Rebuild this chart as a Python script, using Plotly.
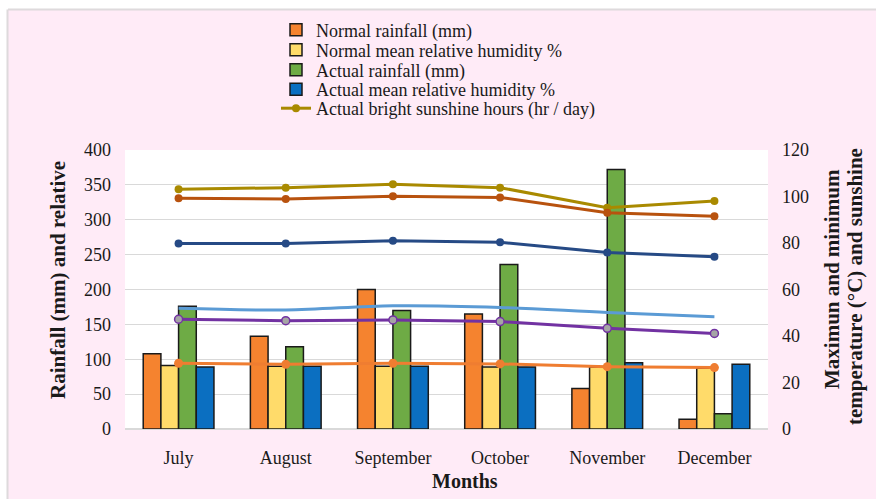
import plotly.graph_objects as go

months = ["July", "August", "September", "October", "November", "December"]

normal_rainfall = [108, 133, 200, 165, 58, 14]
normal_rh = [91, 90, 90, 89, 89, 87]
actual_rainfall = [176, 118, 170, 236, 372, 22]
actual_rh = [89, 90, 90, 89, 95, 93]

sunshine = [103.1, 103.8, 105.3, 103.8, 95.2, 98.1]
max_temp_normal = [99.2, 98.9, 100.1, 99.6, 93.0, 91.5]
line_blue_dark = [79.8, 79.8, 81.0, 80.3, 75.9, 74.1]
line_blue_light = [51.9, 51.2, 53.0, 52.3, 50.1, 48.3]
line_purple = [47.2, 46.6, 46.9, 46.2, 43.3, 41.1]
line_orange = [28.3, 27.8, 28.3, 28.0, 26.8, 26.4]

SERIF = "Liberation Serif"
TXT = "#1a1a1a"

L, R, T, B = 125, 108, 150, 70
W, H = 876, 499
pw, ph = W - L - R, H - T - B

def px_x(x):
    return (x - L) / pw

def px_y(y):
    return (H - B - y) / ph

fig = go.Figure()

bar_specs = [
    ("Normal rainfall (mm)", normal_rainfall, "#F5832F", "legend"),
    ("Normal mean relative humidity %", normal_rh, "#FFDB6A", "legend2"),
    ("Actual rainfall (mm)", actual_rainfall, "#6EAB45", "legend3"),
    ("Actual mean relative humidity %", actual_rh, "#0B6FC1", "legend4"),
]
for name, vals, col, lg in bar_specs:
    fig.add_trace(go.Bar(x=months, y=vals, name=name, legend=lg,
                         marker=dict(color=col, line=dict(color="#1a1a1a", width=1.5)),
                         yaxis="y"))

fig.add_trace(go.Scatter(x=months, y=sunshine, name="Actual bright sunshine hours (hr / day)",
                         legend="legend5",
                         mode="lines+markers", line=dict(color="#A98A00", width=3),
                         marker=dict(color="#A98A00", size=8), yaxis="y2"))
fig.add_trace(go.Scatter(x=months, y=max_temp_normal, name="Normal maximum temperature",
                         mode="lines+markers", line=dict(color="#B8520E", width=3),
                         marker=dict(color="#B8520E", size=8), yaxis="y2", showlegend=False))
fig.add_trace(go.Scatter(x=months, y=line_blue_dark, name="Actual maximum temperature",
                         mode="lines+markers", line=dict(color="#264A85", width=3),
                         marker=dict(color="#264A85", size=8), yaxis="y2", showlegend=False))
fig.add_trace(go.Scatter(x=months, y=line_blue_light, name="Normal minimum temperature",
                         mode="lines", line=dict(color="#5B9BD5", width=3, shape="spline"),
                         yaxis="y2", showlegend=False))
fig.add_trace(go.Scatter(x=months, y=line_purple, name="Actual minimum temperature",
                         mode="lines+markers", line=dict(color="#7232A2", width=3),
                         marker=dict(color="#A5A5A5", size=8, line=dict(color="#7232A2", width=1.5)),
                         yaxis="y2", showlegend=False))
fig.add_trace(go.Scatter(x=months, y=line_orange, name="Normal sunshine hours",
                         mode="lines+markers", line=dict(color="#EF7D31", width=3),
                         marker=dict(color="#EF7D31", size=9), yaxis="y2", showlegend=False))

legend_rows = [30, 50, 70, 89.5, 108.5]
legend_common = dict(xanchor="left", yanchor="middle", bgcolor="rgba(0,0,0,0)",
                     font=dict(family=SERIF, size=18, color=TXT), itemwidth=30)
legends = {}
for i, yy in enumerate(legend_rows):
    key = "legend" if i == 0 else f"legend{i + 1}"
    legends[key] = dict(x=px_x(276), y=px_y(yy), **legend_common)

fig.update_layout(
    width=W, height=H,
    margin=dict(l=L, r=R, t=T, b=B, pad=0),
    paper_bgcolor="#FFEBF7",
    plot_bgcolor="#FFFFFF",
    barmode="group", bargap=0.34, bargroupgap=0,
    font=dict(family=SERIF, size=18, color=TXT),
    showlegend=True,
    hovermode=False,
    xaxis=dict(showgrid=False, showline=False, ticks="", ticklabelstandoff=16,
               tickfont=dict(size=18, color=TXT)),
    yaxis=dict(range=[0, 400], dtick=50, showgrid=True, gridcolor="#D9D9D9", gridwidth=1,
               zeroline=True, zerolinecolor="#D9D9D9", showline=False, ticks="",
               ticklabelstandoff=13, tickfont=dict(size=18, color=TXT)),
    yaxis2=dict(range=[0, 120], dtick=20, overlaying="y", side="right", showgrid=False,
                zeroline=False, showline=False, ticks="", ticklabelstandoff=13,
                tickfont=dict(size=18, color=TXT)),
    shapes=[
        dict(type="rect", xref="paper", yref="paper", x0=px_x(-5), x1=px_x(W + 5),
             y0=px_y(9.5), y1=px_y(-5), fillcolor="#FFFFFF", line=dict(width=0), layer="above"),
        dict(type="rect", xref="paper", yref="paper", x0=px_x(-5), x1=px_x(7.5),
             y0=px_y(H + 5), y1=px_y(-5), fillcolor="#FFFFFF", line=dict(width=0), layer="above"),
        dict(type="line", xref="paper", yref="paper", x0=px_x(8), x1=px_x(W + 5),
             y0=px_y(9.5), y1=px_y(9.5), line=dict(color="#DEDADC", width=2), layer="above"),
        dict(type="line", xref="paper", yref="paper", x0=px_x(7.5), x1=px_x(7.5),
             y0=px_y(9.5), y1=px_y(H + 5), line=dict(color="#DEDADC", width=2), layer="above"),
    ],
    annotations=[
        dict(text="<b>Rainfall (mm) and relative</b>", xref="paper", yref="paper",
             x=px_x(58), y=px_y(280), textangle=-90, showarrow=False,
             font=dict(family=SERIF, size=21, color=TXT), xanchor="center", yanchor="middle"),
        dict(text="<b>Maximun and minimum</b>", xref="paper",
             yref="paper", x=px_x(832), y=px_y(279), textangle=-90, showarrow=False,
             font=dict(family=SERIF, size=21, color=TXT), xanchor="center", yanchor="middle"),
        dict(text="<b>temperature (°C) and sunshine</b>", xref="paper",
             yref="paper", x=px_x(855), y=px_y(286), textangle=-90, showarrow=False,
             font=dict(family=SERIF, size=21, color=TXT), xanchor="center", yanchor="middle"),
        dict(text="<b>Months</b>", xref="paper", yref="paper", x=px_x(465), y=px_y(481),
             showarrow=False, font=dict(family=SERIF, size=20, color=TXT),
             xanchor="center", yanchor="middle"),
    ],
    **legends,
)

fig.write_html("out.html", config=dict(displayModeBar=False, staticPlot=True),
               post_script="document.body.style.margin='0';document.body.style.overflow='hidden';")
